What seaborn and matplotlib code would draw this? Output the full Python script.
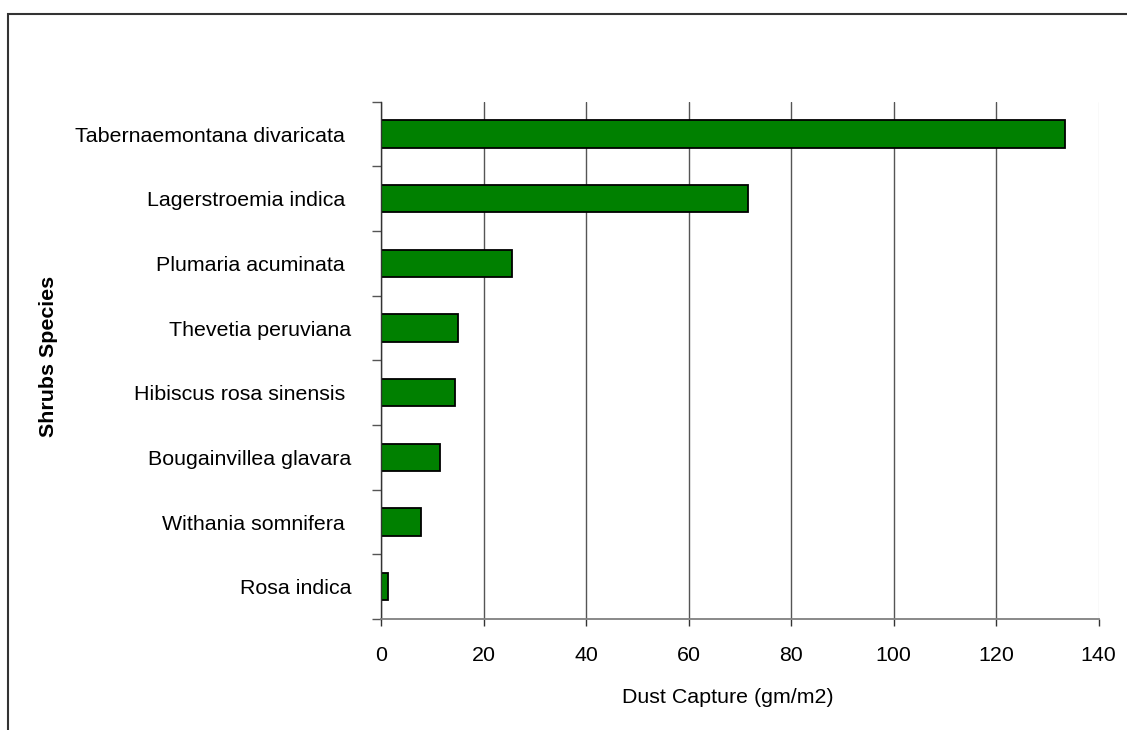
import numpy as np
import pandas as pd
import matplotlib
matplotlib.use("Agg")
import matplotlib.pyplot as plt
from matplotlib.patches import Rectangle
from matplotlib.ticker import FixedLocator, NullFormatter
import seaborn as sns

# Dust captured by shrub species
species = [
    "Tabernaemontana divaricata ",
    "Lagerstroemia indica ",
    "Plumaria acuminata ",
    "Thevetia peruviana",
    "Hibiscus rosa sinensis ",
    "Bougainvillea glavara",
    "Withania somnifera ",
    "Rosa indica",
]
dust_capture = [133.5, 71.6, 25.5, 15.0, 14.4, 11.6, 7.9, 1.4]
x_ticks = [0, 20, 40, 60, 80, 100, 120, 140]

df = pd.DataFrame({"species": species, "dust": dust_capture})

sns.set_style("white")
plt.rcParams["font.family"] = ["Liberation Sans", "DejaVu Sans"]
plt.rcParams["text.color"] = "black"
plt.rcParams["axes.labelcolor"] = "black"
FS = 15.4

W, H = 1127, 730
fig = plt.figure(figsize=(W / 100, H / 100), dpi=100)
ax = fig.add_axes([381 / W, 1 - 619 / H, (1098.7 - 381) / W, (619 - 101.7) / H])

sns.barplot(data=df, x="dust", y="species", orient="h", color="#008000",
            edgecolor="black", linewidth=1.3, width=0.42, saturation=1, ax=ax)

n = len(species)
ax.set_xlim(0, 140)
ax.set_ylim(n - 0.5, -0.5)

# x axis
ax.set_xticks(x_ticks)
ax.set_xticklabels([str(t) for t in x_ticks], fontsize=FS, color="black")
ax.tick_params(axis="x", direction="out", length=5, width=1, colors="#333333",
               labelcolor="black", pad=14.5, bottom=True)
ax.grid(axis="x", color="#555555", linewidth=1)
for gl, t in zip(ax.get_xgridlines(), x_ticks):
    if t == 140:
        gl.set_color("#e4e4e4")
ax.set_axisbelow(True)

# y axis: ticks on category boundaries, labels at category centres
ax.yaxis.set_major_locator(FixedLocator(np.arange(-0.5, n)))
ax.yaxis.set_major_formatter(NullFormatter())
ax.yaxis.set_minor_locator(FixedLocator(np.arange(n)))
ax.set_yticks(np.arange(n), labels=species, minor=True, fontsize=FS)
ax.tick_params(axis="y", which="major", direction="out", length=6.5, width=1,
               colors="#555555", left=True)
ax.tick_params(axis="y", which="minor", length=0, pad=21.5, labelcolor="black",
               left=True)

for side in ("top", "right"):
    ax.spines[side].set_visible(False)
ax.spines["left"].set_color("#333333")
ax.spines["left"].set_linewidth(1)
ax.spines["bottom"].set_color("#808080")
ax.spines["bottom"].set_linewidth(1.3)

ax.set_xlabel("Dust Capture (gm/m2)", fontsize=FS, va="top", color="black")
ax.xaxis.set_label_coords(0.4835, -0.1325)
ax.set_ylabel("Shrubs Species", fontsize=FS, fontweight="bold", va="center",
              color="black")
ax.yaxis.set_label_coords(-0.4636, 0.508)

# chart frame
fig.add_artist(Rectangle((7.5 / W, -0.2), 1.2, 1.2 - 14 / H,
                         transform=fig.transFigure, fill=False,
                         edgecolor="#333333", linewidth=1.5))

fig.savefig("out.png", dpi=100)
